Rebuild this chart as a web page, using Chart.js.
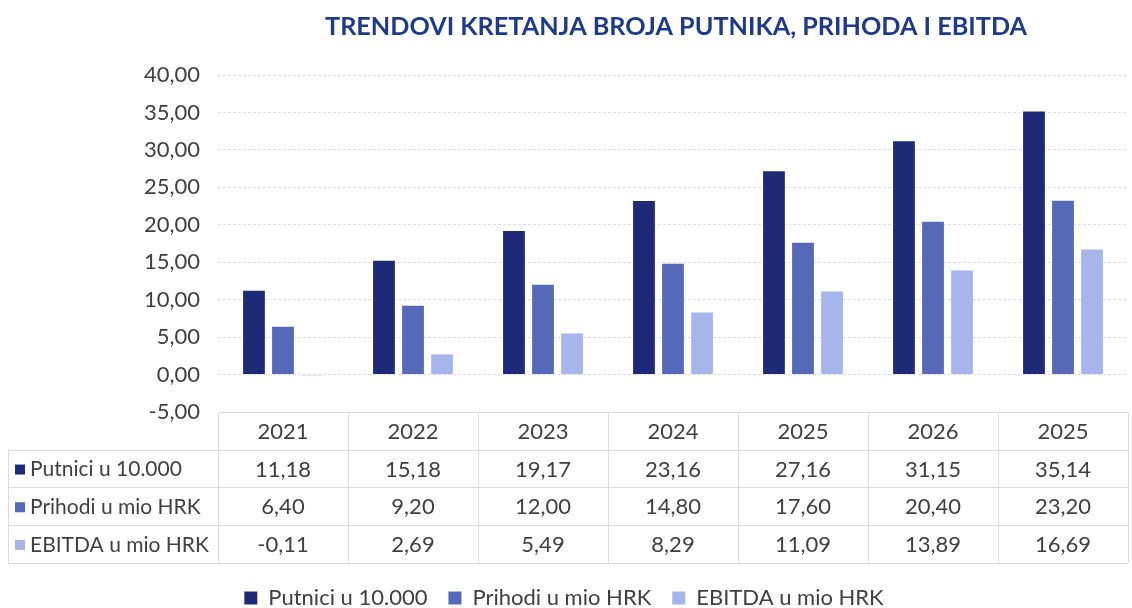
<!DOCTYPE html>
<html>
<head>
<meta charset="utf-8">
<script src="https://cdn.jsdelivr.net/npm/chart.js@4.4.1/dist/chart.umd.min.js"></script>
<style>
  html, body { margin: 0; padding: 0; background: #fff; }
  #wrap { width: 1132px; height: 608px; position: relative; }
</style>
</head>
<body>
<div id="wrap"><canvas id="c" width="1132" height="608"></canvas></div>
<script>
const years = ['2021', '2022', '2023', '2024', '2025', '2026', '2025'];
const putnici = [11.18, 15.18, 19.17, 23.16, 27.16, 31.15, 35.14];
const prihodi = [6.40, 9.20, 12.00, 14.80, 17.60, 20.40, 23.20];
const ebitda = [-0.11, 2.69, 5.49, 8.29, 11.09, 13.89, 16.69];
const seriesNames = ['Putnici u 10.000', 'Prihodi u mio HRK', 'EBITDA u mio HRK'];
const colors = ['#1e2a78', '#5668b8', '#a8b5ec'];

const FONT = 'Lato, "Open Sans", sans-serif';
const fmt = v => v.toFixed(2).replace('.', ',');

// title + data table under the plot
const tablePlugin = {
  id: 'dataTable',
  afterDraw(chart) {
    const { ctx, chartArea, scales } = chart;
    const { left, right, bottom } = chartArea;
    const n = years.length;
    const colW = (right - left) / n;
    const rowH = 37.7;
    const tableLeft = 8;
    const rows = [putnici, prihodi, ebitda];

    ctx.save();
    // title
    ctx.fillStyle = '#1f3a8a';
    ctx.font = 'bold 25.5px ' + FONT;
    ctx.textAlign = 'center';
    ctx.textBaseline = 'middle';
    ctx.fillText('TRENDOVI KRETANJA BROJA PUTNIKA, PRIHODA I EBITDA', 676, 27, 702);

    // grid lines of table
    ctx.strokeStyle = '#dcdcdc';
    ctx.lineWidth = 1;
    ctx.beginPath();
    ctx.moveTo(left, bottom + 0.5);
    ctx.lineTo(right, bottom + 0.5);
    for (let r = 1; r <= 4; r++) {
      const y = Math.round(bottom + r * rowH) + 0.5;
      ctx.moveTo(tableLeft, y);
      ctx.lineTo(right, y);
    }
    for (let i = 0; i <= n; i++) {
      const x = Math.round(left + i * colW) + 0.5;
      ctx.moveTo(x, bottom);
      ctx.lineTo(x, bottom + 4 * rowH);
    }
    ctx.moveTo(tableLeft + 0.5, bottom + rowH);
    ctx.lineTo(tableLeft + 0.5, bottom + 4 * rowH);
    ctx.stroke();

    // header years
    ctx.font = '22px ' + FONT;
    ctx.fillStyle = '#404040';
    ctx.textAlign = 'center';
    years.forEach((y, i) => {
      const x = scales.x.getPixelForValue(i);
      ctx.fillText(y, x, bottom + rowH / 2 + 1);
    });

    rows.forEach((vals, r) => {
      const cy = bottom + (r + 1.5) * rowH + 1;
      ctx.fillStyle = colors[r];
      ctx.fillRect(tableLeft + 7, cy - 5, 10, 10);
      ctx.fillStyle = '#404040';
      ctx.textAlign = 'left';
      ctx.font = '21px ' + FONT;
      ctx.fillText(seriesNames[r], tableLeft + 22, cy);
      ctx.font = '22px ' + FONT;
      ctx.textAlign = 'center';
      vals.forEach((v, i) => {
        ctx.fillText(fmt(v), scales.x.getPixelForValue(i), cy);
      });
    });
    ctx.restore();
  }
};

const datasets = [putnici, prihodi, ebitda].map((d, i) => ({
  label: seriesNames[i],
  data: d,
  backgroundColor: colors[i],
  borderWidth: 0,
  categoryPercentage: 0.67,
  barPercentage: 0.75
}));

new Chart(document.getElementById('c'), {
  type: 'bar',
  data: { labels: years, datasets },
  options: {
    responsive: false,
    animation: false,
    layout: { padding: { top: 75, right: 4, left: 0, bottom: -11 } },
    scales: {
      x: {
        ticks: { display: false },
        grid: { display: false },
        border: { display: false },
        afterFit: s => { s.height = 154; }
      },
      y: {
        min: -5,
        max: 40,
        ticks: {
          stepSize: 5,
          padding: 18,
          color: '#404040',
          font: { family: FONT, size: 22 },
          callback: v => fmt(v)
        },
        grid: { color: '#dedede', drawTicks: false },
        border: { display: false, dash: [3, 2] },
        afterFit: s => { s.width = 218; }
      }
    },
    plugins: {
      title: { display: false },
      tooltip: { enabled: false },
      legend: {
        position: 'bottom',
        labels: {
          color: '#404040',
          font: { family: FONT, size: 22 },
          boxWidth: 13,
          boxHeight: 13,
          padding: 21
        }
      }
    }
  },
  plugins: [tablePlugin]
});
</script>
</body>
</html>
